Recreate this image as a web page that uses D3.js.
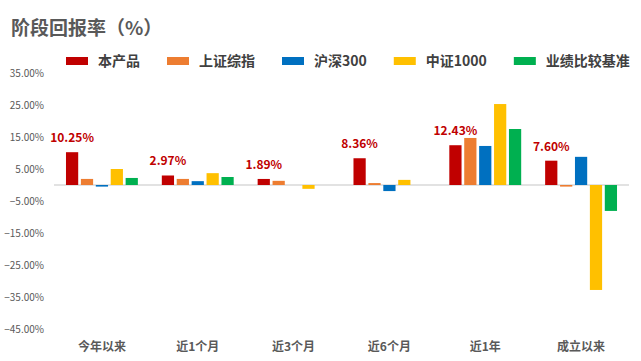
<!DOCTYPE html>
<html>
<head>
<meta charset="utf-8">
<script src="https://cdn.jsdelivr.net/npm/d3@7"></script>
<style>
  body { margin: 0; background: #fff; }
  svg { display: block; font-family: "Microsoft YaHei", "Noto Sans CJK SC", sans-serif; }
</style>
</head>
<body>
<div id="chartPlaceholder"></div>
<script>
const categories = ["今年以来", "近1个月", "近3个月", "近6个月", "近1年", "成立以来"];
const seriesNames = ["本产品", "上证综指", "沪深300", "中证1000", "业绩比较基准"];
const seriesColors = ["#C00000", "#ED7D31", "#0070C0", "#FFC000", "#00B050"];

// returns per category, in series order
const productValues = [10.25, 2.97, 1.89, 8.36, 12.43, 7.6];
const shIndexValues = [1.9, 1.9, 1.3, 0.6, 14.7, -0.5];
const hs300Values = [-0.5, 1.2, 0, -1.9, 12.2, 8.8];
const zz1000Values = [5.0, 3.7, -1.2, 1.6, 25.3, -32.8];
const benchmarkValues = [2.2, 2.5, 0, 0, 17.5, -8.1];

const yTicks = [35, 25, 15, 5, -5, -15, -25, -35, -45];

const allSeries = [productValues, shIndexValues, hs300Values, zz1000Values, benchmarkValues];

const data = [];
categories.forEach((cat, i) => {
  seriesNames.forEach((name, j) => {
    data.push({ category: cat, series: name, value: allSeries[j][i] });
  });
});

const width = 641, height = 361;
const margin = { top: 73, right: 12, bottom: 32, left: 54 };

const svg = d3
  .select("#chartPlaceholder")
  .append("svg")
  .attr("width", width)
  .attr("height", height);

// title
svg
  .append("text")
  .attr("x", 11)
  .attr("y", 35)
  .attr("fill", "#595959")
  .style("font-size", "19px")
  .style("font-weight", "bold")
  .text("阶段回报率（%）");

// scales
const x0 = d3
  .scaleBand()
  .domain(categories)
  .range([margin.left, width - margin.right])
  .paddingInner(0.25)
  .paddingOuter(0.125);
const x1 = d3.scaleBand().domain(seriesNames).range([0, x0.bandwidth()]).paddingInner(0.18);
const y = d3.scaleLinear().domain([-45, 35]).range([height - margin.bottom, margin.top]);
const color = d3.scaleOrdinal().domain(seriesNames).range(seriesColors);

// y axis labels
const yAxis = svg
  .append("g")
  .attr("transform", `translate(${margin.left - 10}, 0)`)
  .call(
    d3
      .axisLeft(y)
      .tickValues(yTicks)
      .tickSize(0)
      .tickFormat((d) => d3.format(".2f")(d) + "%")
  );
yAxis.select(".domain").remove();
yAxis
  .selectAll("text")
  .attr("fill", "#595959")
  .attr("x", 0)
  .style("font-size", "10px")
  .style("font-family", "'Microsoft YaHei', 'Noto Sans CJK SC', sans-serif");

// zero line
svg
  .append("line")
  .attr("x1", margin.left)
  .attr("x2", width - margin.right)
  .attr("y1", y(0))
  .attr("y2", y(0))
  .attr("stroke", "#D9D9D9")
  .attr("stroke-width", 1.5);

// bars
svg
  .append("g")
  .selectAll("rect")
  .data(data.filter((d) => d.value !== 0))
  .join("rect")
  .attr("x", (d) => x0(d.category) + x1(d.series))
  .attr("y", (d) => y(Math.max(0, d.value)))
  .attr("width", x1.bandwidth())
  .attr("height", (d) => Math.abs(y(d.value) - y(0)))
  .attr("fill", (d) => color(d.series));

// data labels for the product
svg
  .append("g")
  .selectAll("text")
  .data(data.filter((d) => d.series === seriesNames[0]))
  .join("text")
  .attr("x", (d) => x0(d.category) + x1(d.series) + x1.bandwidth() / 2)
  .attr("y", (d) => y(d.value) - 10)
  .attr("text-anchor", "middle")
  .attr("fill", "#C00000")
  .style("font-size", "12px")
  .style("font-weight", "bold")
  .text((d) => d3.format(".2f")(d.value) + "%");

// x axis labels
const xAxis = svg
  .append("g")
  .attr("transform", `translate(0, ${height - margin.bottom + 10})`)
  .call(d3.axisBottom(x0).tickSize(0));
xAxis.select(".domain").remove();
xAxis
  .selectAll("text")
  .attr("fill", "#595959")
  .style("font-size", "12px")
  .style("font-weight", "bold")
  .style("font-family", "'Microsoft YaHei', 'Noto Sans CJK SC', sans-serif");

// legend
const legend = svg.append("g").attr("transform", "translate(66, 61)");
let offset = 0;
seriesNames.forEach((name) => {
  const item = legend.append("g").attr("transform", `translate(${offset}, 0)`);
  item.append("rect").attr("x", 0).attr("y", -4).attr("width", 22).attr("height", 8).attr("fill", color(name));
  const label = item
    .append("text")
    .attr("x", 32)
    .attr("y", 0)
    .attr("dy", "0.35em")
    .attr("fill", "#404040")
    .style("font-size", "14px")
    .style("font-weight", "bold")
    .text(name);
  offset += 32 + label.node().getComputedTextLength() + 27;
});
</script>
</body>
</html>
